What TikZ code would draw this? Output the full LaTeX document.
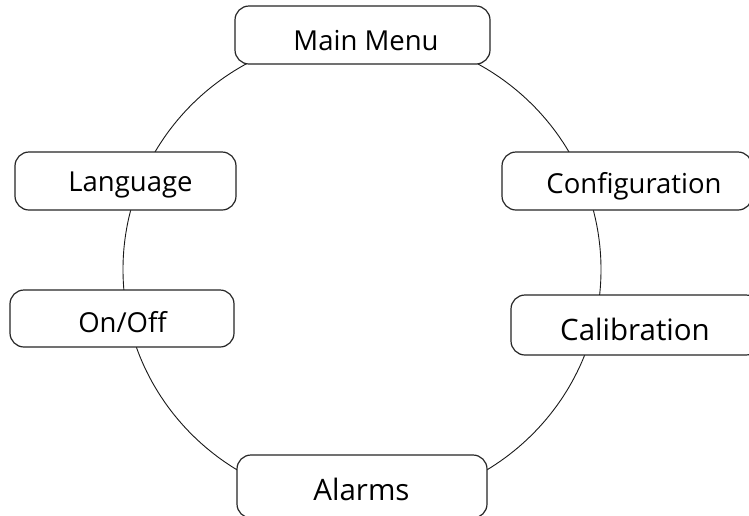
\documentclass[tikz,border=0pt]{standalone}
\usepackage{fontspec}
\setmainfont{Open Sans}
\begin{document}
\begin{tikzpicture}[x=1pt,y=-1pt,
  box/.style={draw=black!85, line width=1.2pt, fill=white, rounded corners=14pt, inner sep=0pt},
  lbl/.style={anchor=base, inner sep=0pt, font=\fontsize{27.5}{30}\selectfont},
  lblbig/.style={lbl, font=\fontsize{29.5}{32}\selectfont}]
\useasboundingbox (0,0) rectangle (749,515);
\clip (0,0) rectangle (749,515);
\fill[white] (0,0) rectangle (749,515);
% ring
\draw[line width=0.9pt, black!90] (362,269.5) ellipse [x radius=239, y radius=235];
% boxes
\node[box, minimum width=255pt, minimum height=58pt] (mm) at (362.5,35) {};
\node[box, minimum width=221pt, minimum height=58pt] (lang) at (125.5,181) {};
\node[box, minimum width=224pt, minimum height=57pt] (onoff) at (122,318.5) {};
\node[box, minimum width=250pt, minimum height=58pt] (conf) at (627,181) {};
\node[box, minimum width=249pt, minimum height=60pt] (calib) at (635.5,325) {};
\node[box, minimum width=250pt, minimum height=63pt] (alarm) at (362,486.5) {};
% labels
\node[lbl] (mmt) at (366,50) {Main Menu};
\node[lbl] (langt) at (130.5,191.5) {Language};
\node[lbl] (onofft) at (122.5,332) {On/Off};
\node[lbl] (conft) at (634,193) {Configuration};
\node[lblbig] (calibt) at (635,340) {Calibration};
\node[lblbig] (alarmt) at (361.5,500) {Alarms};
\end{tikzpicture}
\end{document}
